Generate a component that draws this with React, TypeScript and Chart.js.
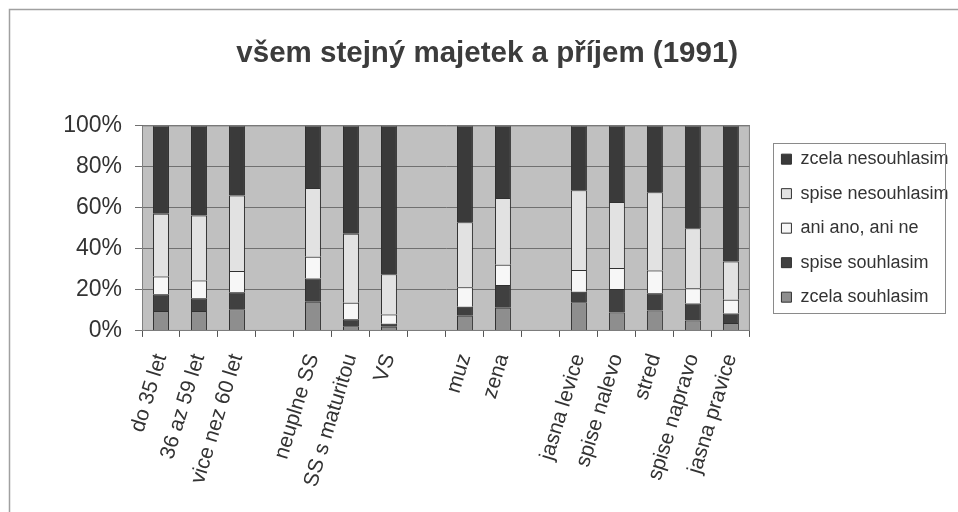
import React, { useEffect, useRef } from "react";
import { Chart, registerables } from "chart.js";

Chart.register(...registerables);

const categories = [
  "do 35 let", "36 az 59 let", "vice nez 60 let", "",
  "neuplne SS", "SS s maturitou", "VS", "",
  "muz", "zena", "",
  "jasna levice", "spise nalevo", "stred", "spise napravo", "jasna pravice",
];

const zcelaSouhlasim = [9.7, 9.7, 10.5, null, 14.2, 2.3, 2.0, null, 7.4, 11.3, null, 13.9, 9.0, 10.0, 5.1, 3.9];
const spiseSouhlasim = [8.1, 6.2, 8.3, null, 11.3, 3.4, 1.5, null, 4.4, 11.1, null, 5.2, 11.4, 8.3, 8.3, 4.6];
const aniAnoAniNe = [8.7, 8.6, 10.3, null, 10.6, 8.0, 4.5, null, 9.5, 9.8, null, 10.5, 10.2, 11.1, 7.4, 6.7];
const spiseNesouhlasim = [30.5, 31.7, 36.8, null, 33.5, 33.6, 19.6, null, 31.6, 32.5, null, 38.9, 32.1, 38.1, 29.1, 18.6];
const zcelaNesouhlasim = [43.0, 43.8, 34.1, null, 30.4, 52.7, 72.4, null, 47.1, 35.3, null, 31.5, 37.3, 32.5, 50.1, 66.2];

const yTicks = [0, 20, 40, 60, 80, 100];
const title = "všem stejný majetek a příjem (1991)";

const FONT = "'Liberation Sans', Arial, sans-serif";

export default function App() {
  const ref = useRef<HTMLCanvasElement | null>(null);

  useEffect(() => {
    const canvas = ref.current;
    if (!canvas) return;

    const bgPlugin = {
      id: "bgPlugin",
      afterLayout(chart: any) {
        const lg = chart.legend;
        if (lg) {
          lg.left += 15;
          lg.right += 15;
        }
      },
      beforeDraw(chart: any) {
        const { ctx, chartArea } = chart;
        ctx.save();
        ctx.fillStyle = "#ffffff";
        ctx.fillRect(0, 0, chart.width, chart.height);
        ctx.strokeStyle = "#a0a0a0";
        ctx.lineWidth = 1.5;
        ctx.beginPath();
        ctx.moveTo(9.5, chart.height);
        ctx.lineTo(9.5, 9.5);
        ctx.lineTo(chart.width, 9.5);
        ctx.stroke();
        ctx.fillStyle = "#c0c0c0";
        ctx.fillRect(chartArea.left, chartArea.top, chartArea.right - chartArea.left, chartArea.bottom - chartArea.top);
        ctx.restore();
      },
      afterDraw(chart: any) {
        const { ctx, chartArea, legend } = chart;
        ctx.save();
        ctx.strokeStyle = "#808080";
        ctx.lineWidth = 1;
        ctx.strokeRect(chartArea.left + 0.5, chartArea.top + 0.5, chartArea.right - chartArea.left - 1, chartArea.bottom - chartArea.top - 1);
        if (legend && legend.legendHitBoxes && legend.legendHitBoxes.length) {
          const hb = legend.legendHitBoxes;
          let l = Infinity, t = Infinity, r = -Infinity, b = -Infinity;
          hb.forEach((h: any) => {
            l = Math.min(l, h.left);
            t = Math.min(t, h.top);
            r = Math.max(r, h.left + h.width);
            b = Math.max(b, h.top + h.height);
          });
          ctx.strokeStyle = "#8a8a8a";
          ctx.strokeRect(Math.round(l - 8) + 0.5, Math.round(t - 7) + 0.5, Math.round(r - l + 5), Math.round(b - t + 14));
        }
        ctx.restore();
      },
    };

    const mk = (label: string, data: (number | null)[], color: string) => ({
      label,
      data,
      backgroundColor: color,
      borderColor: "#303030",
      borderWidth: 1,
      barPercentage: 0.42,
      categoryPercentage: 1,
    });

    const chart = new Chart(canvas, {
      type: "bar",
      data: {
        labels: categories,
        datasets: [
          mk("zcela souhlasim", zcelaSouhlasim, "#8e8e8e"),
          mk("spise souhlasim", spiseSouhlasim, "#404040"),
          mk("ani ano, ani ne", aniAnoAniNe, "#f7f7f7"),
          mk("spise nesouhlasim", spiseNesouhlasim, "#e2e2e2"),
          mk("zcela nesouhlasim", zcelaNesouhlasim, "#3a3a3a"),
        ],
      },
      options: {
        responsive: false,
        animation: false,
        devicePixelRatio: 1,
        layout: { padding: { left: 31, right: 14.5, top: 0, bottom: 8 } },
        plugins: {
          title: {
            display: true,
            text: title,
            color: "#3c3c3c",
            font: { family: FONT, size: 29.5, weight: "bold" },
            padding: { top: 36, bottom: 54 },
          },
          legend: {
            display: true,
            position: "right",
            fullSize: false,
            reverse: true,
            labels: {
              color: "#333333",
              font: { family: FONT, size: 18 },
              boxWidth: 10,
              boxHeight: 10,
              padding: 16.5,
            },
          },
          tooltip: { enabled: false },
        },
        scales: {
          x: {
            stacked: true,
            offset: true,
            grid: { drawOnChartArea: false, drawTicks: true, tickLength: 6, color: "#555555", offset: true },
            border: { display: true, color: "#555555" },
            ticks: {
              autoSkip: false,
              minRotation: 73,
              maxRotation: 73,
              padding: 14,
              color: "#333333",
              font: { family: FONT, size: 21 },
            },
          },
          y: {
            stacked: true,
            min: 0,
            max: 100,
            afterBuildTicks(scale: any) {
              scale.ticks = yTicks.map((v) => ({ value: v }));
            },
            afterFit(scale: any) {
              scale.width = 111;
            },
            grid: { color: "#707070", tickLength: 7, drawTicks: true },
            border: { display: true, color: "#555555" },
            ticks: {
              padding: 13,
              color: "#333333",
              font: { family: FONT, size: 23 },
              callback: (v: any) => v + "%",
            },
          },
        },
      },
      plugins: [bgPlugin],
    } as any);

    return () => chart.destroy();
  }, []);

  return (
    <div style={{ position: "fixed", left: 0, top: 0, width: 958, height: 512, background: "#fff" }}>
      <canvas ref={ref} width={958} height={512} style={{ display: "block", width: 958, height: 512 }} />
    </div>
  );
}
